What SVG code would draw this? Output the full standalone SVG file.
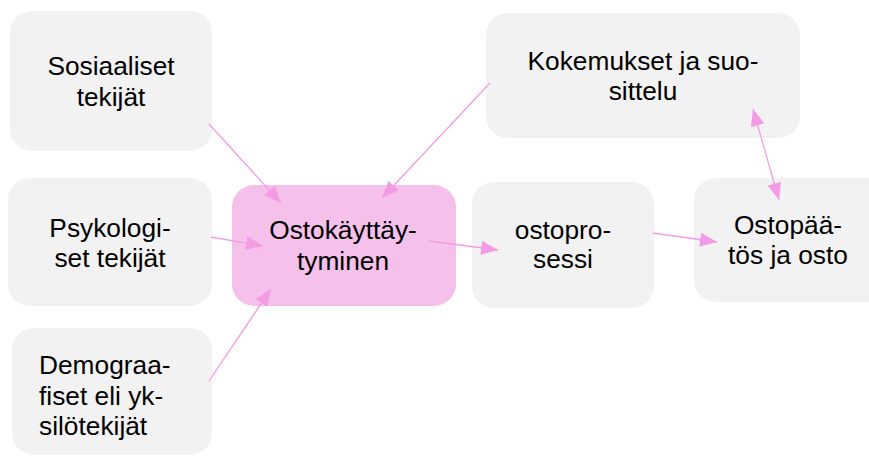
<svg xmlns="http://www.w3.org/2000/svg" width="869" height="458" viewBox="0 0 869 458">
<defs>
<style>
.box{fill:#f2f2f2}
.main{fill:#f5c0ea}
text{font-family:"Liberation Sans",Arial,sans-serif;font-size:26.3px;fill:#000}
.c{text-anchor:middle}
.conn line{stroke:#f59be6;stroke-width:1.3;fill:none}
</style>
<marker id="ah" markerUnits="userSpaceOnUse" markerWidth="18" markerHeight="15" refX="17" refY="7.5" orient="auto-start-reverse" viewBox="0 0 18 15">
<path d="M0,0.5 L17,7.5 L0,14.5 Z" fill="#f59be6"/>
</marker>
</defs>
<rect width="869" height="458" fill="#fff"/>
<g id="n-sosiaaliset">
<rect class="box" x="10" y="11" width="202" height="140" rx="22"/>
<text class="c" x="111" y="75">Sosiaaliset</text>
<text class="c" x="111" y="106">tekijät</text>
</g>
<g id="n-psykologiset">
<rect class="box" x="8" y="178" width="204" height="128" rx="22"/>
<text class="c" x="110" y="237">Psykologi-</text>
<text class="c" x="110" y="267">set tekijät</text>
</g>
<g id="n-demograafiset">
<rect class="box" x="12" y="328" width="200" height="127" rx="22"/>
<text x="39" y="374">Demograa-</text>
<text x="39" y="405">fiset eli yk-</text>
<text x="39" y="435">silötekijät</text>
</g>
<g id="n-ostokayttaytyminen">
<rect class="main" x="232" y="185" width="224" height="121" rx="22"/>
<text class="c" x="343" y="239">Ostokäyttäy-</text>
<text class="c" x="343" y="270">tyminen</text>
</g>
<g id="n-kokemukset">
<rect class="box" x="486" y="13" width="314" height="125" rx="22"/>
<text class="c" x="643" y="70">Kokemukset ja suo-</text>
<text class="c" x="643" y="100">sittelu</text>
</g>
<g id="n-ostoprosessi">
<rect class="box" x="472" y="182" width="182" height="126" rx="22"/>
<text class="c" x="563" y="239">ostopro-</text>
<text class="c" x="563" y="268">sessi</text>
</g>
<g id="n-ostopaatos">
<rect class="box" x="694" y="178" width="200" height="124" rx="22"/>
<text class="c" x="788" y="234">Ostopää-</text>
<text class="c" x="788" y="264">tös ja osto</text>
</g>
<g id="connectors" class="conn">
<line x1="209" y1="124" x2="281" y2="203" marker-end="url(#ah)"/>
<line x1="490" y1="83" x2="382" y2="198" marker-end="url(#ah)"/>
<line x1="211" y1="237" x2="263" y2="246" marker-end="url(#ah)"/>
<line x1="209" y1="381" x2="271" y2="289" marker-end="url(#ah)"/>
<line x1="429" y1="241" x2="498" y2="250" marker-end="url(#ah)"/>
<line x1="653" y1="233" x2="717" y2="242" marker-end="url(#ah)"/>
<line x1="753" y1="109" x2="779" y2="200" marker-start="url(#ah)" marker-end="url(#ah)"/>
</g>
</svg>
